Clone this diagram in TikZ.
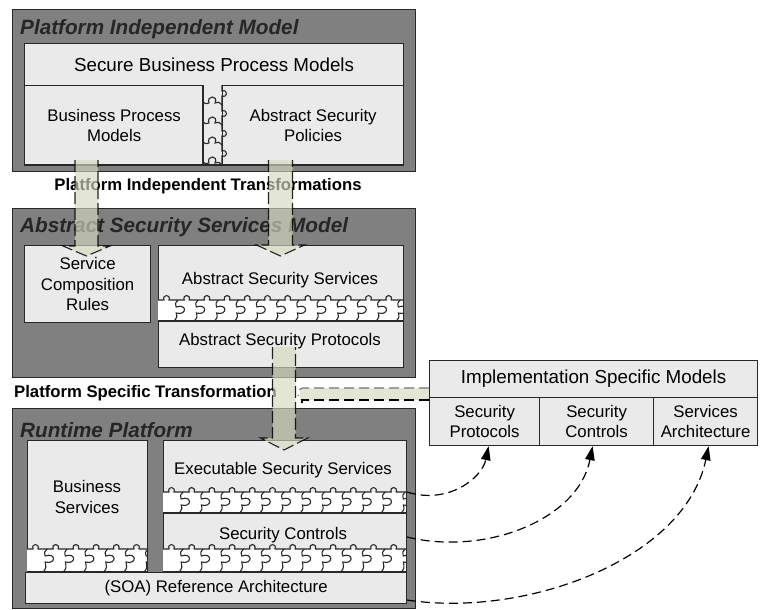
\documentclass[tikz,border=0pt]{standalone}
\usepackage{fontspec}
\setmainfont{Liberation Sans}
\usetikzlibrary{arrows.meta}
\definecolor{panelgray}{RGB}{128,128,128}
\definecolor{boxgray}{RGB}{234,234,234}
\definecolor{arrowfill}{RGB}{214,218,192}
\definecolor{edge}{RGB}{40,40,40}
\newcommand{\bdf}{\fontsize{16.8}{20.5}\selectfont}
\newcommand{\hdf}{\fontsize{18.8}{22}\selectfont}
\newcommand{\titlef}{\fontsize{20.7}{24}\selectfont\bfseries\itshape}
\newcommand{\labf}{\fontsize{16.7}{20}\selectfont\bfseries}
% horizontal jigsaw band: x0, x1, top, bottom
\newcommand{\hband}[4]{%
  \fill[white] (#1,#3) rectangle (#2,#4);
  \begin{scope}
    \clip (#1,#3-7) rectangle (#2,#4+1);
    \foreach \k in {0,...,12} {
      \pgfmathsetmacro\xa{#1+20.2*\k}
      \pgfmathsetmacro\xv{#1+20.2*\k+20.2}
      \draw[puz] (\xa,#3) -- (\xa+6,#3) .. controls (\xa+4,#3-6) and (\xa+13,#3-6) .. (\xa+11,#3) -- (\xv,#3);
      \draw[puz] (\xv,#3) .. controls (\xv-3,#3+3) .. (\xv-2,#3+7) .. controls (\xv+9,#3+3) and (\xv+9,#3+16) .. (\xv-2,#3+13) .. controls (\xv-1,#4-4) .. (\xv-4,#4);
    }
  \end{scope}
  \draw[puz] (#1,#4) -- (#2,#4);
}
% vertical jigsaw band: left x, right x, top, bottom
\newcommand{\vband}[4]{%
  \fill[boxgray] (#1,#3) rectangle (#2,#4);
  \begin{scope}
    \clip (#1-1,#3) rectangle (#2+7,#4);
    \foreach \k in {0,...,3} {
      \pgfmathsetmacro\ya{#3+20*\k}
      \pgfmathsetmacro\yv{#3+20*\k+20}
      \draw[puz] (#2,\ya) -- (#2,\ya+6) .. controls (#2+6,\ya+4) and (#2+6,\ya+13) .. (#2,\ya+11) -- (#2,\yv);
      \draw[puz] (#2,\yv) .. controls (#2-3,\yv-3) .. (#2-7,\yv-2) .. controls (#2-3,\yv-10) and (#2-16,\yv-10) .. (#2-13,\yv-2) .. controls (#2-16,\yv-1) .. (#1,\yv-3);
    }
  \end{scope}
  \draw[puz] (#1,#3) -- (#1,#4);
}
% hollow transformation arrow: cx, half width, top, head base, tip
\newcommand{\tarr}[5]{%
  \path[tarrow] (#1-#2,#3) -- (#1-#2,#4) -- (#1-#2-12,#4) -- (#1,#5) -- (#1+#2+12,#4) -- (#1+#2,#4) -- (#1+#2,#3);
}
\begin{document}
\begin{tikzpicture}[x=1pt,y=-1pt,
  panel/.style={draw=edge, line width=1.4pt, fill=panelgray, inner sep=0pt, anchor=north west},
  box/.style={draw=edge, line width=1.2pt, fill=boxgray, inner sep=0pt, align=center, font=\bdf, anchor=north west},
  hbox/.style={box, font=\hdf},
  txt/.style={inner sep=0pt, align=center, font=\bdf},
  puz/.style={draw=edge, line width=1.1pt},
  ttl/.style={font=\titlef, anchor=west, inner sep=0pt, text=black!85},
  lbl/.style={font=\labf, inner sep=0pt},
  tarrow/.style={fill=arrowfill, fill opacity=0.65, draw=black, draw opacity=0.85, line width=1.1pt, dash pattern=on 12pt off 4pt},
  link/.style={draw=black, line width=1.2pt, dash pattern=on 9pt off 5pt, -{Triangle[length=14pt,width=9.5pt]}},
]
\useasboundingbox (0,0) rectangle (760,610);
\fill[white] (0,0) rectangle (760,610);

% ---------- Panel 1 ----------
\node[panel, minimum width=403, minimum height=162] (pim) at (12,9) {};
\node[ttl] (pimt) at (20,29) {Platform Independent Model};
\node[hbox, minimum width=379, minimum height=42] (sbpm) at (24,43) {Secure Business Process Models};
\node[box, minimum width=179, minimum height=80] (bpm) at (24,85) {Business Process\\Models};
\node[box, minimum width=181, minimum height=80] (asp) at (222,85) {Abstract Security\\Policies};
\vband{203}{222}{85}{165}
\draw[draw=edge, line width=1.2pt] (24,165) -- (403,165);

\node[lbl] (pit) at (208,186) {Platform Independent Transformations};

% ---------- Panel 2 ----------
\node[panel, minimum width=403, minimum height=169] (assm) at (12,208) {};
\node[ttl] (assmt) at (20,227) {Abstract Security Services Model};
\node[box, minimum width=126, minimum height=77] (scr) at (24,245) {Service\\Composition\\Rules};
\node[box, minimum width=245, minimum height=122] (asr) at (158,245) {};
\node[txt] (ass) at (280,280) {Abstract Security Services};
\hband{158}{403}{300}{321}
\node[txt] (aspr) at (280,341) {Abstract Security Protocols};

\node[lbl, anchor=west] (pst) at (14,393) {Platform Specific Transformation};

% ---------- Panel 3 ----------
\node[panel, minimum width=403, minimum height=200] (rp) at (12,408) {};
\node[ttl] (rpt) at (20,430) {Runtime Platform};
\node[box, minimum width=120, minimum height=132] (bsb) at (27,440) {};
\node[txt] (bs) at (87,497) {Business\\Services};
\hband{27}{147}{549}{572}
\node[box, minimum width=243, minimum height=132] (rc) at (163,440) {};
\node[txt] (ess) at (283,470) {Executable Security Services};
\hband{163}{406}{492}{513}
\node[txt] (sc) at (283,535) {Security Controls};
\hband{163}{406}{549}{572}
\node[box, minimum width=381, minimum height=31] (soa) at (25,572) {(SOA) Reference Architecture};

% ---------- Transformation arrows ----------
\tarr{86.5}{11.5}{160}{246}{256}
\tarr{280.5}{12}{160}{245}{256}
\tarr{284}{11.5}{347}{438}{450}

% ---------- Implementation Specific Models ----------
\node[hbox, minimum width=328, minimum height=37] (ism) at (429,360) {Implementation Specific Models};
\node[box, minimum width=110, minimum height=48] (sp) at (429,397) {Security\\Protocols};
\node[box, minimum width=114, minimum height=48] (scm) at (539,397) {Security\\Controls};
\node[box, minimum width=104, minimum height=48] (sa) at (653,397) {Services\\Architecture};

% input arrow from implementation models
\coordinate (h1) at (429,388);
\coordinate (h2) at (429,400);
\fill[arrowfill, fill opacity=0.65] (300,388) rectangle (h2);
\draw[black!55, line width=1.2pt, dash pattern=on 10pt off 5pt] (h1) -- (305,388) .. controls (300,388) .. (298,396);
\draw[black, line width=1.2pt, dash pattern=on 10pt off 5pt] (h2) -- (302,400) -- (302,405);

% ---------- Links ----------
\coordinate (s1) at (407,492);
\coordinate (s2) at (407,537);
\coordinate (s3) at (407,600);
\draw[link] (s1) .. controls (448,505) and (482,478) .. ([xshift=4pt]sp.south);
\draw[link] (s2) .. controls (485,556) and (578,520) .. ([xshift=-4pt]scm.south);
\draw[link] (s3) .. controls (525,618) and (685,560) .. ([xshift=3pt]sa.south);
\end{tikzpicture}
\end{document}
